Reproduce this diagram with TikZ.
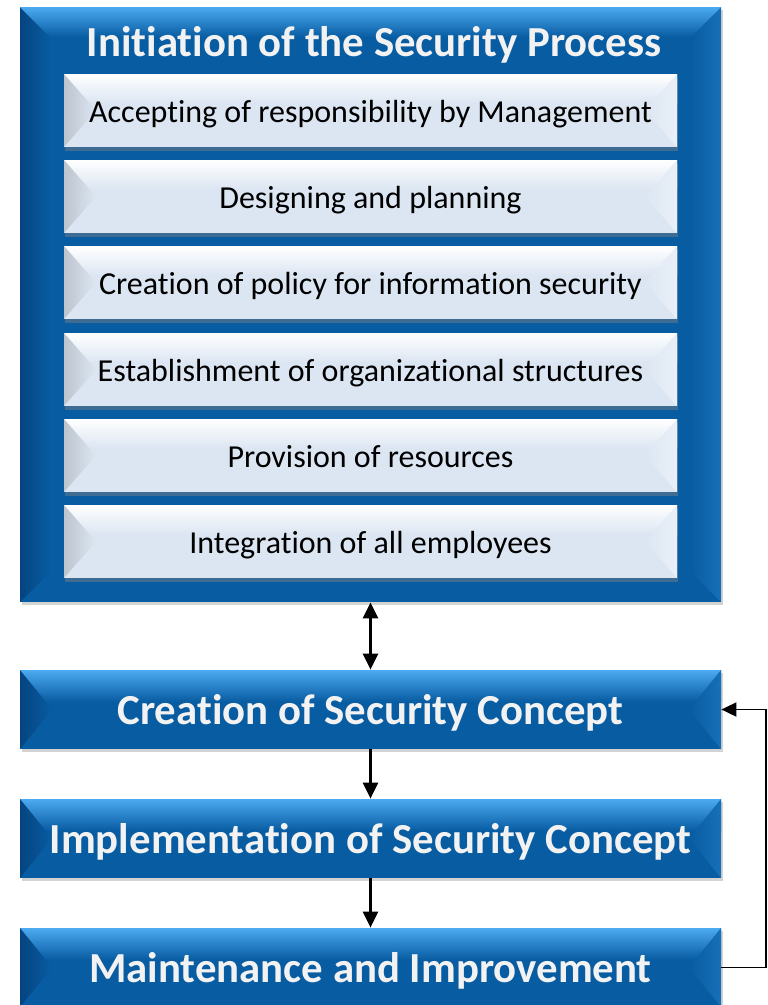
\documentclass[tikz,border=0pt]{standalone}
\usepackage{fontspec}
\setmainfont{Carlito}[Ligatures=NoCommon]
\usetikzlibrary{calc,shadows,arrows.meta}

\definecolor{barbase}{RGB}{8,92,162}
\definecolor{bartop}{RGB}{76,170,240}
\definecolor{bardark}{RGB}{5,68,128}
\definecolor{barlight}{RGB}{24,112,184}
\definecolor{pagebase}{RGB}{220,230,242}
\definecolor{pagetop}{RGB}{255,255,255}
\definecolor{pagedark}{RGB}{188,196,206}
\definecolor{pagelight}{RGB}{234,240,248}
\definecolor{titlewhite}{RGB}{242,242,242}

\tikzset{every picture/.style={line width=0.75pt}}
\tikzset{
  bevel/.style={
    path picture={
      \coordinate (pnw) at (path picture bounding box.north west);
      \coordinate (pne) at (path picture bounding box.north east);
      \coordinate (psw) at (path picture bounding box.south west);
      \coordinate (pse) at (path picture bounding box.south east);
      \fill[#1base] (pnw) rectangle (pse);
      \shade[top color=#1top, bottom color=#1base] (pnw) rectangle ($(pne)!0.4!(pse)$);
      \shade[left color=#1dark, right color=#1base] (pnw) -- ($(pnw)!0.5!(psw)+(32,0)$) -- (psw) -- cycle;
      \shade[left color=#1base, right color=#1light] (pne) -- ($(pne)!0.5!(pse)+(-32,0)$) -- (pse) -- cycle;
    }},
  bluebar/.style={bevel=bar, minimum width=701pt, minimum height=79pt, inner sep=0pt,
    text=titlewhite, font=\bfseries\fontsize{42.8}{48}\selectfont,
    text height=38pt, text depth=9pt,
    drop shadow={opacity=0.35, shadow xshift=2pt, shadow yshift=-3pt}},
  lightbar/.style={bevel=page, minimum width=613pt, minimum height=73pt, inner sep=0pt,
    text=black, font=\fontsize{32}{38}\selectfont,
    text height=30pt, text depth=7pt,
    drop shadow={opacity=0.45, shadow xshift=1pt, shadow yshift=-4pt}},
  outerbox/.style={minimum width=701pt, minimum height=595pt, inner sep=0pt,
    drop shadow={opacity=0.35, shadow xshift=2pt, shadow yshift=-3pt},
    path picture={
      \coordinate (pnw) at (path picture bounding box.north west);
      \coordinate (pne) at (path picture bounding box.north east);
      \coordinate (psw) at (path picture bounding box.south west);
      \coordinate (pse) at (path picture bounding box.south east);
      \fill[barbase] (pnw) rectangle (pse);
      \shade[left color=bardark, right color=barbase] (pnw) -- ($(pnw)+(30,-30)$) -- ($(psw)+(30,30)$) -- (psw) -- cycle;
      \shade[left color=barbase, right color=barlight] (pne) -- ($(pne)+(-30,-30)$) -- ($(pse)+(-30,30)$) -- (pse) -- cycle;
      \shade[top color=bartop, bottom color=barbase] (pnw) -- (pne) -- ($(pne)+(-30,-30)$) -- ($(pnw)+(30,-30)$) -- cycle;
    }},
  titletext/.style={inner sep=0pt, anchor=base, text=titlewhite, font=\bfseries\fontsize{42.8}{48}\selectfont},
  flow/.style={line width=2.5pt, -{Triangle[length=16pt,width=15pt]}},
  flowboth/.style={line width=2.5pt, {Triangle[length=16pt,width=15pt]}-{Triangle[length=16pt,width=15pt]}},
  loopback/.style={line width=1.8pt, -{Triangle[length=15pt,width=14pt]}},
}

\begin{document}
\begin{tikzpicture}[x=1pt,y=1pt,yscale=-1]
\useasboundingbox (0,0) rectangle (768,1005);

% Initiation block
\node [outerbox] (init) at (370.5,304.5) {};
\node [titletext] (title) at (374,56) {Initiation of the Security Process};

\node [lightbar] (accept) at (370.5,110.5) {Accepting of responsibility by Management};
\node [lightbar] (design) at (370.5,196.5) {Designing and planning};
\node [lightbar] (policy) at (370.5,282.5) {Creation of policy for information security};
\node [lightbar] (struct) at (370.5,369.5) {Establishment of organizational structures};
\node [lightbar] (resources) at (370.5,455.5) {Provision of resources};
\node [lightbar] (employees) at (370.5,541.5) {Integration of all employees};

% Concept phases
\node [bluebar] (creation) at (370.5,709.5) {Creation of Security Concept};
\node [bluebar] (implement) at (370.5,838.5) {Implementation of Security Concept};
\node [bluebar] (maintain) at (370.5,967.5) {Maintenance and Improvement};

% Connectors
\draw [flowboth] (init.south) -- (creation.north);
\draw [flow] (creation.south) -- (implement.north);
\draw [flow] (implement.south) -- (maintain.north);
\draw [loopback] (maintain.east) -- ++(45,0) |- (creation.east);

\end{tikzpicture}
\end{document}
